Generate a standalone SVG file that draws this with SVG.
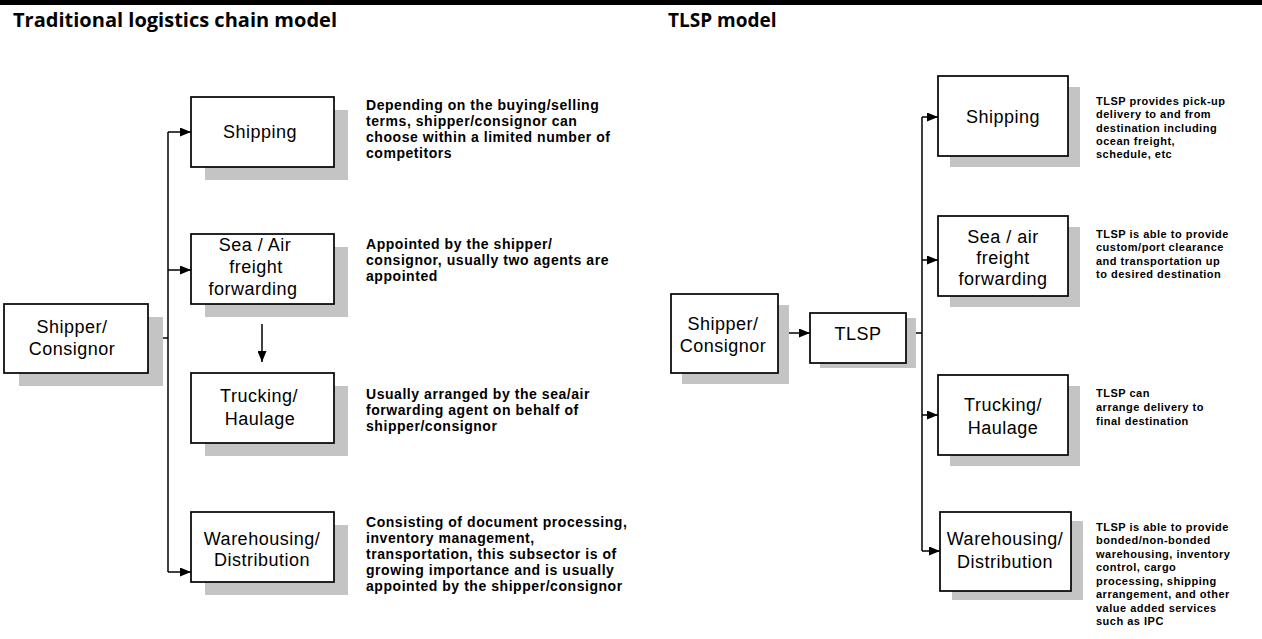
<svg xmlns="http://www.w3.org/2000/svg" width="1262" height="639" viewBox="0 0 1262 639">
<defs>
<marker id="ah" markerWidth="11" markerHeight="9" refX="11" refY="4.5" orient="auto" markerUnits="userSpaceOnUse">
<path d="M0,0 L11,4.5 L0,9 Z" fill="#000"/>
</marker>
</defs>
<style>
.box{fill:#fff;stroke:#000;stroke-width:1.7}
.sh{fill:#c4c4c4}
.lbl{font-family:"Liberation Sans",Arial,sans-serif;font-size:18px;letter-spacing:0.5px;fill:#000;text-anchor:middle}
.ttl{font-family:"Open Sans","Noto Sans","Liberation Sans",sans-serif;font-size:19px;font-weight:bold;fill:#000}
.dl{font-family:"Liberation Sans",Arial,sans-serif;font-size:14px;font-weight:bold;letter-spacing:0.55px;fill:#000}
.dr{font-family:"Liberation Sans",Arial,sans-serif;font-size:11px;font-weight:bold;letter-spacing:0.5px;fill:#000}
.ln{fill:none;stroke:#000;stroke-width:1.5}
.ar{fill:none;stroke:#000;stroke-width:1.5;marker-end:url(#ah)}
</style>
<rect x="0" y="0" width="1262" height="5" fill="#000"/>
<text class="ttl" x="13" y="27" textLength="324" lengthAdjust="spacingAndGlyphs">Traditional logistics chain model</text>
<text class="ttl" x="668" y="27">TLSP model</text>

<g id="connectors">
<path class="ln" d="M148,338 H168"/>
<path class="ln" d="M168,132 V572"/>
<path class="ar" d="M168,132 H191"/>
<path class="ar" d="M168,270 H191"/>
<path class="ar" d="M168,572 H191"/>
<path class="ar" d="M262,324 V362"/>
<path class="ar" d="M778,333 H810"/>
<path class="ln" d="M906,333 H922"/>
<path class="ln" d="M922,117 V551"/>
<path class="ar" d="M922,117 H938"/>
<path class="ar" d="M922,260 H938"/>
<path class="ar" d="M922,415 H938"/>
<path class="ar" d="M922,551 H940"/>
</g>

<g id="l-shipper">
<rect class="sh" x="19" y="317" width="144" height="69"/>
<rect class="box" x="4" y="304" width="144" height="69"/>
<text class="lbl" x="72" y="333">Shipper/</text>
<text class="lbl" x="72" y="355">Consignor</text>
</g>
<g id="l-shipping">
<rect class="sh" x="205" y="110" width="143" height="70"/>
<rect class="box" x="191" y="97" width="143" height="70"/>
<text class="lbl" x="260" y="138">Shipping</text>
<text class="dl" x="366" y="110">Depending on the buying/selling</text>
<text class="dl" x="366" y="126">terms, shipper/consignor can</text>
<text class="dl" x="366" y="142">choose within a limited number of</text>
<text class="dl" x="366" y="158">competitors</text>
</g>
<g id="l-seaair">
<rect class="sh" x="205" y="247" width="143" height="70"/>
<rect class="box" x="191" y="234" width="143" height="70"/>
<text class="lbl" x="255" y="251">Sea / Air</text>
<text class="lbl" x="256" y="273">freight</text>
<text class="lbl" x="253" y="295">forwarding</text>
<text class="dl" x="366" y="249">Appointed by the shipper/</text>
<text class="dl" x="366" y="265">consignor, usually two agents are</text>
<text class="dl" x="366" y="281">appointed</text>
</g>
<g id="l-trucking">
<rect class="sh" x="205" y="386" width="143" height="70"/>
<rect class="box" x="191" y="373" width="143" height="70"/>
<text class="lbl" x="259" y="402">Trucking/</text>
<text class="lbl" x="260" y="425">Haulage</text>
<text class="dl" x="366" y="399">Usually arranged by the sea/air</text>
<text class="dl" x="366" y="415">forwarding agent on behalf of</text>
<text class="dl" x="366" y="431">shipper/consignor</text>
</g>
<g id="l-warehousing">
<rect class="sh" x="205" y="525" width="143" height="70"/>
<rect class="box" x="191" y="512" width="143" height="70"/>
<text class="lbl" x="262" y="545">Warehousing/</text>
<text class="lbl" x="262" y="566">Distribution</text>
<text class="dl" x="366" y="527">Consisting of document processing,</text>
<text class="dl" x="366" y="543">inventory management,</text>
<text class="dl" x="366" y="559">transportation, this subsector is of</text>
<text class="dl" x="366" y="575">growing importance and is usually</text>
<text class="dl" x="366" y="591">appointed by the shipper/consignor</text>
</g>

<g id="r-shipper">
<rect class="sh" x="682" y="305" width="107" height="79"/>
<rect class="box" x="671" y="294" width="107" height="79"/>
<text class="lbl" x="723" y="330">Shipper/</text>
<text class="lbl" x="723" y="352">Consignor</text>
</g>
<g id="r-tlsp">
<rect class="sh" x="820" y="318" width="96" height="50"/>
<rect class="box" x="810" y="313" width="96" height="50"/>
<text class="lbl" x="858" y="340">TLSP</text>
</g>
<g id="r-shipping">
<rect class="sh" x="950" y="87" width="130" height="80"/>
<rect class="box" x="938" y="76" width="130" height="80"/>
<text class="lbl" x="1003" y="123">Shipping</text>
<text class="dr" x="1096" y="105">TLSP provides pick-up</text>
<text class="dr" x="1096" y="118">delivery to and from</text>
<text class="dr" x="1096" y="132">destination including</text>
<text class="dr" x="1096" y="145">ocean freight,</text>
<text class="dr" x="1096" y="158">schedule, etc</text>
</g>
<g id="r-seaair">
<rect class="sh" x="950" y="227" width="130" height="80"/>
<rect class="box" x="938" y="216" width="130" height="80"/>
<text class="lbl" x="1003" y="243">Sea / air</text>
<text class="lbl" x="1003" y="264">freight</text>
<text class="lbl" x="1003" y="285">forwarding</text>
<text class="dr" x="1096" y="238">TLSP is able to provide</text>
<text class="dr" x="1096" y="251">custom/port clearance</text>
<text class="dr" x="1096" y="265">and transportation up</text>
<text class="dr" x="1096" y="278">to desired destination</text>
</g>
<g id="r-trucking">
<rect class="sh" x="950" y="386" width="130" height="80"/>
<rect class="box" x="938" y="375" width="130" height="80"/>
<text class="lbl" x="1003" y="411">Trucking/</text>
<text class="lbl" x="1003" y="434">Haulage</text>
<text class="dr" x="1096" y="397">TLSP can</text>
<text class="dr" x="1096" y="411">arrange delivery to</text>
<text class="dr" x="1096" y="425">final destination</text>
</g>
<g id="r-warehousing">
<rect class="sh" x="952" y="521" width="131" height="79"/>
<rect class="box" x="940" y="512" width="131" height="79"/>
<text class="lbl" x="1005" y="545">Warehousing/</text>
<text class="lbl" x="1005" y="568">Distribution</text>
<text class="dr" x="1096" y="531">TLSP is able to provide</text>
<text class="dr" x="1096" y="544">bonded/non-bonded</text>
<text class="dr" x="1096" y="558">warehousing, inventory</text>
<text class="dr" x="1096" y="571">control, cargo</text>
<text class="dr" x="1096" y="585">processing, shipping</text>
<text class="dr" x="1096" y="598">arrangement, and other</text>
<text class="dr" x="1096" y="612">value added services</text>
<text class="dr" x="1096" y="625">such as IPC</text>
</g>
</svg>
